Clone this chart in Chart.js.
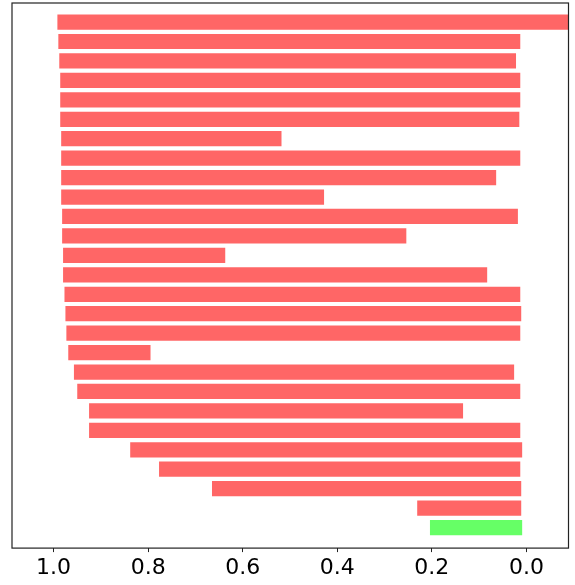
<!DOCTYPE html>
<html>
<head>
<meta charset="utf-8">
<script src="https://cdn.jsdelivr.net/npm/chart.js@4/dist/chart.umd.min.js"></script>
<style>
  html, body { margin: 0; padding: 0; background: #fff; }
  #wrap { width: 575px; height: 585px; }
</style>
</head>
<body>
<div id="wrap"><canvas id="c" width="575" height="585"></canvas></div>
<script>
// Bar start (left end, larger value) and end (right end) for each row, top to bottom
const barStarts = [0.992, 0.990, 0.988, 0.986, 0.986, 0.986, 0.984, 0.984, 0.984, 0.984,
                   0.982, 0.982, 0.980, 0.980, 0.977, 0.975, 0.973, 0.969, 0.957, 0.950,
                   0.925, 0.925, 0.838, 0.777, 0.665, 0.231, 0.204];
const barEnds   = [-0.150, 0.013, 0.022, 0.013, 0.013, 0.015, 0.518, 0.013, 0.064, 0.428,
                   0.018, 0.254, 0.637, 0.083, 0.013, 0.011, 0.013, 0.795, 0.026, 0.013,
                   0.134, 0.013, 0.009, 0.013, 0.011, 0.011, 0.009];
const barGroups = ['red','red','red','red','red','red','red','red','red','red',
                   'red','red','red','red','red','red','red','red','red','red',
                   'red','red','red','red','red','red','green'];
const xTickValues = [1.0, 0.8, 0.6, 0.4, 0.2, 0.0];

const groupColors = { red: '#ff6666', green: '#66ff66' };

const data = barStarts.map((s, i) => ({ x: [s, barEnds[i]], y: i }));

const framePlugin = {
  id: 'frame',
  afterDraw(chart) {
    const { ctx, chartArea: a } = chart;
    ctx.save();
    ctx.strokeStyle = '#222';
    ctx.lineWidth = 1.2;
    ctx.strokeRect(a.left, a.top, a.right - a.left, a.bottom - a.top);
    ctx.restore();
  }
};

new Chart(document.getElementById('c'), {
  type: 'bar',
  data: {
    datasets: [{
      data: data,
      backgroundColor: barGroups.map(g => groupColors[g]),
      borderWidth: 0,
      barPercentage: 0.8,
      categoryPercentage: 1.0
    }]
  },
  options: {
    indexAxis: 'y',
    responsive: false,
    animation: false,
    devicePixelRatio: 1,
    layout: { padding: { left: 12, top: 3, right: 6.5, bottom: 0.5 } },
    plugins: { legend: { display: false }, tooltip: { enabled: false } },
    scales: {
      y: {
        type: 'linear',
        display: false,
        reverse: true,
        offset: false,
        min: -0.98,
        max: 27.056
      },
      x: {
        type: 'linear',
        reverse: true,
        offset: false,
        min: -0.089,
        max: 1.088,
        afterBuildTicks(scale) { scale.ticks = xTickValues.map(v => ({ value: v })); },
        grid: { drawOnChartArea: false, drawTicks: true, tickLength: 4, color: '#222', tickWidth: 1 },
        border: { display: false },
        ticks: {
          padding: 3,
          color: '#000',
          font: { family: 'DejaVu Sans', size: 22 },
          callback: v => Number(v).toFixed(1),
          maxRotation: 0,
          autoSkip: false
        }
      }
    }
  },
  plugins: [framePlugin]
});
</script>
</body>
</html>
